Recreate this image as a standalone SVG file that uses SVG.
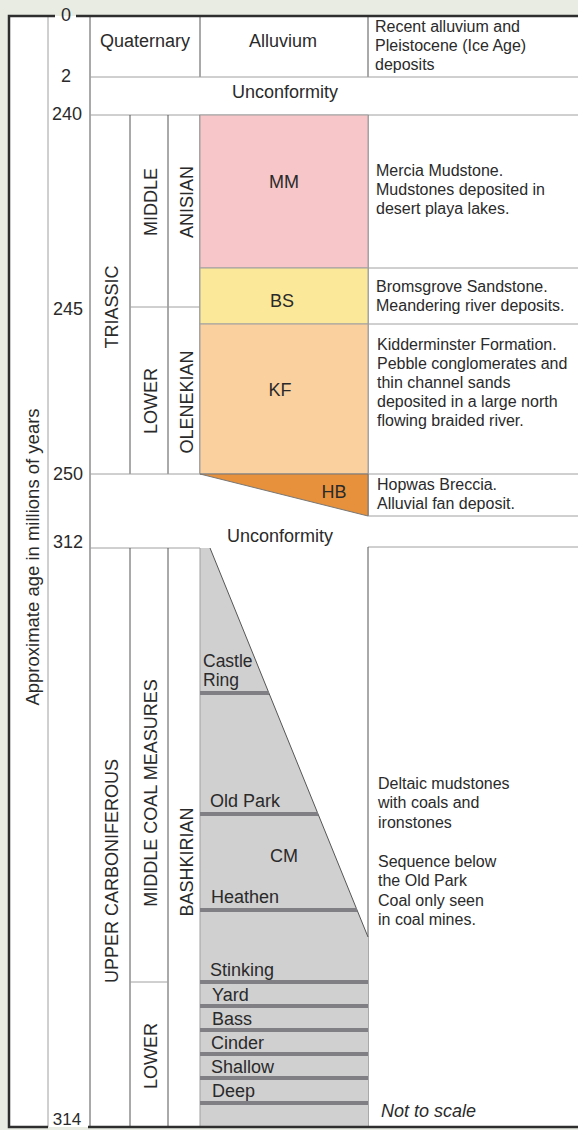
<svg xmlns="http://www.w3.org/2000/svg" width="578" height="1130" viewBox="0 0 578 1130">
<style>
text{font-family:"Liberation Sans",Arial,sans-serif;fill:#2a2a2a}
.lbl{font-size:18px}
.ctr{text-anchor:middle}
.desc{font-size:16px}
.coal{font-size:18px}
.g{stroke:#a0a0a0;stroke-width:1;fill:none}
.d{stroke:#555;stroke-width:1;fill:none}
.frame{stroke:#2e2e2e;stroke-width:2.5;fill:none}
.seam{fill:#7f7f84}
</style>
<rect x="0" y="0" width="578" height="1130" fill="#e9ece3"/>
<rect x="9" y="16" width="569" height="1111" fill="#ffffff"/>

<g id="grid">
<line class="g" x1="48" y1="16" x2="48" y2="1127"/>
<line class="d" x1="90" y1="16" x2="90" y2="1127"/>
<line class="d" x1="200" y1="16" x2="200" y2="77"/>
<line class="d" x1="368" y1="16" x2="368" y2="77"/>
<line class="g" x1="90" y1="77" x2="578" y2="77"/>
<line class="g" x1="90" y1="115" x2="578" y2="115"/>
<line class="d" x1="130" y1="115" x2="130" y2="474"/>
<line class="d" x1="168" y1="115" x2="168" y2="474"/>
<line class="d" x1="200" y1="115" x2="200" y2="474"/>
<line class="d" x1="368" y1="115" x2="368" y2="516"/>
<line class="g" x1="130" y1="307" x2="200" y2="307"/>
<line class="g" x1="368" y1="268" x2="578" y2="268"/>
<line class="g" x1="368" y1="324" x2="578" y2="324"/>
<line class="g" x1="90" y1="474" x2="578" y2="474"/>
<line class="g" x1="368" y1="516" x2="578" y2="516"/>
<line class="g" x1="90" y1="548" x2="200" y2="548"/>
<line class="g" x1="368" y1="547" x2="578" y2="547"/>
<line class="d" x1="368" y1="547" x2="368" y2="1127"/>
<line class="d" x1="130" y1="548" x2="130" y2="1127"/>
<line class="d" x1="168" y1="548" x2="168" y2="1127"/>
<line class="g" x1="130" y1="982" x2="168" y2="982"/>
</g>

<g id="units">
<rect x="200" y="115" width="168" height="153" fill="#f6c6c8" stroke="#a0a0a0"/>
<rect x="200" y="268" width="168" height="56" fill="#fbe899" stroke="#a0a0a0"/>
<rect x="200" y="324" width="168" height="150" fill="#fbd09f" stroke="#a0a0a0"/>
<polygon points="200,474 368,474 368,516" fill="#e8913d" stroke="#777" stroke-width="1"/>
<polygon points="200,548 210,548 368,937 368,1127 200,1127" fill="#d0d0d0"/>
<line x1="210" y1="548" x2="368" y2="937" stroke="#555" stroke-width="1"/>
<line class="g" x1="200" y1="548" x2="200" y2="1127"/>
<rect class="seam" x="200" y="691" width="69" height="4"/>
<rect class="seam" x="200" y="812" width="118" height="4"/>
<rect class="seam" x="200" y="908" width="157" height="4"/>
<rect class="seam" x="200" y="980" width="168" height="4"/>
<rect class="seam" x="200" y="1004" width="168" height="4"/>
<rect class="seam" x="200" y="1028" width="168" height="4"/>
<rect class="seam" x="200" y="1052" width="168" height="4"/>
<rect class="seam" x="200" y="1076" width="168" height="4"/>
<rect class="seam" x="200" y="1101" width="168" height="4"/>
</g>

<g id="frame">
<path class="frame" d="M55,16 H9 V1127 H48"/>
<line class="frame" x1="76" y1="16" x2="578" y2="16"/>
<line class="frame" x1="88" y1="1127" x2="578" y2="1127"/>
</g>

<g id="ages">
<text class="lbl ctr" x="66" y="21">0</text>
<text class="lbl ctr" x="66" y="82">2</text>
<text class="lbl ctr" x="67" y="120">240</text>
<text class="lbl ctr" x="68" y="315">245</text>
<text class="lbl ctr" x="68" y="480">250</text>
<text class="lbl ctr" x="68" y="548">312</text>
<text class="ctr" x="67" y="1125" style="font-size:17px">314</text>
<text class="lbl ctr" transform="translate(39,557) rotate(-90)" style="font-size:18.5px">Approximate age in millions of years</text>
</g>

<g id="quaternary">
<text class="lbl ctr" x="145" y="47">Quaternary</text>
<text class="lbl ctr" x="283" y="47">Alluvium</text>
<text class="desc" x="375" y="32">Recent alluvium and</text>
<text class="desc" x="375" y="51">Pleistocene (Ice Age)</text>
<text class="desc" x="375" y="70">deposits</text>
<text class="lbl ctr" x="285" y="98">Unconformity</text>
</g>

<g id="triassic">
<text class="lbl ctr" transform="translate(118,307) rotate(-90)">TRIASSIC</text>
<text class="lbl ctr" transform="translate(157,202) rotate(-90)">MIDDLE</text>
<text class="lbl ctr" transform="translate(193,202) rotate(-90)">ANISIAN</text>
<text class="lbl ctr" transform="translate(157,401) rotate(-90)">LOWER</text>
<text class="lbl ctr" transform="translate(193,402) rotate(-90)">OLENEKIAN</text>
<text class="lbl ctr" x="284" y="188">MM</text>
<text class="lbl ctr" x="282" y="307">BS</text>
<text class="lbl ctr" x="280" y="396">KF</text>
<text class="lbl ctr" x="334" y="498">HB</text>
<text class="desc" x="376" y="176">Mercia Mudstone.</text>
<text class="desc" x="376" y="195">Mudstones deposited in</text>
<text class="desc" x="376" y="214">desert playa lakes.</text>
<text class="desc" x="376" y="292">Bromsgrove Sandstone.</text>
<text class="desc" x="376" y="311">Meandering river deposits.</text>
<text class="desc" x="377" y="350">Kidderminster Formation.</text>
<text class="desc" x="377" y="369">Pebble conglomerates and</text>
<text class="desc" x="377" y="388">thin channel sands</text>
<text class="desc" x="377" y="407">deposited in a large north</text>
<text class="desc" x="377" y="426">flowing braided river.</text>
<text class="desc" x="377" y="490">Hopwas Breccia.</text>
<text class="desc" x="377" y="509">Alluvial fan deposit.</text>
<text class="lbl ctr" x="280" y="542">Unconformity</text>
</g>

<g id="carboniferous">
<text class="lbl ctr" transform="translate(118,871) rotate(-90)">UPPER CARBONIFEROUS</text>
<text class="lbl ctr" transform="translate(157,793) rotate(-90)">MIDDLE COAL MEASURES</text>
<text class="lbl ctr" transform="translate(157,1056) rotate(-90)">LOWER</text>
<text class="lbl ctr" transform="translate(193,862) rotate(-90)">BASHKIRIAN</text>
<text x="203" y="667" style="font-size:17.5px">Castle</text>
<text x="203" y="686" style="font-size:17.5px">Ring</text>
<text class="coal" x="210" y="807">Old Park</text>
<text class="lbl ctr" x="284" y="862">CM</text>
<text class="coal" x="211" y="903">Heathen</text>
<text class="coal" x="210" y="976">Stinking</text>
<text class="coal" x="212" y="1001">Yard</text>
<text class="coal" x="212" y="1025">Bass</text>
<text class="coal" x="211" y="1049">Cinder</text>
<text class="coal" x="211" y="1073">Shallow</text>
<text class="coal" x="212" y="1097">Deep</text>
<text class="desc" x="378" y="789">Deltaic mudstones</text>
<text class="desc" x="378" y="808">with coals and</text>
<text class="desc" x="378" y="828">ironstones</text>
<text class="desc" x="378" y="867">Sequence below</text>
<text class="desc" x="378" y="886">the Old Park</text>
<text class="desc" x="378" y="906">Coal only seen</text>
<text class="desc" x="378" y="925">in coal mines.</text>
<text x="381" y="1117" style="font-size:18px;font-style:italic">Not to scale</text>
</g>
</svg>
